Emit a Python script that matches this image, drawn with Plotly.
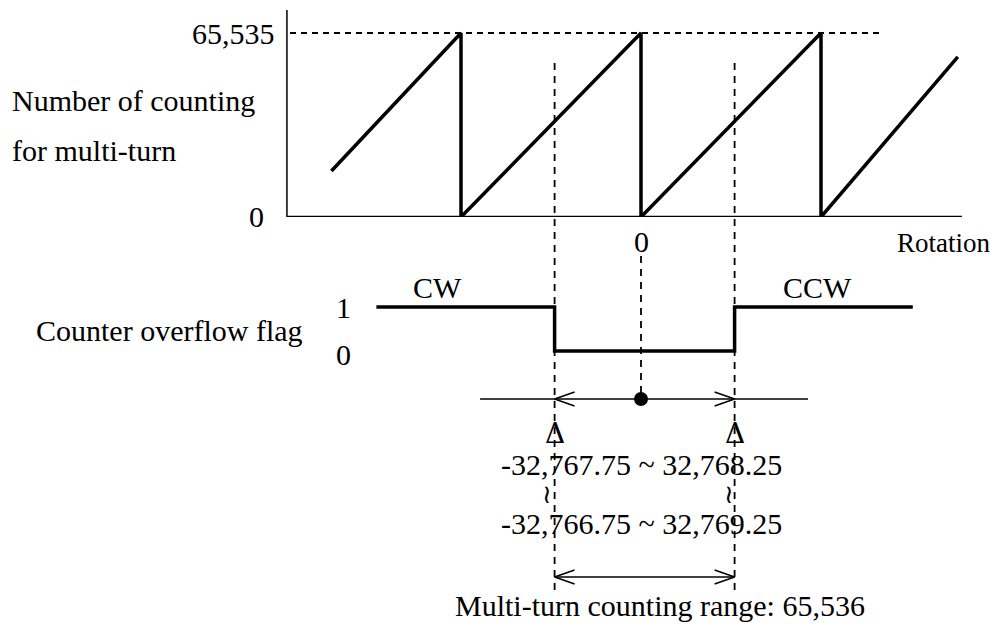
import plotly.graph_objects as go

# ---------------- data ----------------
COUNT_MAX = 65535
saw_x = [-1.72, -1, -1, 0, 0, 1, 1, 1.76]          # rotation (turns)
saw_y = [16400, 65535, 0, 65535, 0, 65535, 0, 57000]  # multi-turn count
flag_x = [-1.47, -0.48, -0.48, 0.52, 0.52, 1.51]
flag_y = [1, 1, 0, 0, 1, 1]
edge_low, edge_high = -0.48, 0.52                  # overflow-flag boundaries
axis_x_start, axis_x_end = -1.967, 1.783
top_dash_x = [-1.95, 1.34]
range_line_x = [-0.894, 0.928]
y_tick_labels = ["0", "65,535"]
flag_tick_labels = ["0", "1"]
range_text_1 = "-32,767.75 ~ 32,768.25"
range_text_2 = "-32,766.75 ~ 32,769.25"
range_caption = "Multi-turn counting range: 65,536"

# ---------------- layout constants ----------------
W, H = 1000, 629
PX_PER_TURN, ORIGIN_PX = 180, 641
FONT = "Liberation Serif"
FS = 30
BLACK = "#000000"

def py(p):  # paper fraction from pixel row
    return 1 - p / H

fig = go.Figure()

# sawtooth
fig.add_trace(go.Scatter(x=saw_x, y=saw_y, mode="lines",
                         line=dict(color=BLACK, width=3.5), yaxis="y", hoverinfo="skip"))
# flag
fig.add_trace(go.Scatter(x=flag_x, y=flag_y, mode="lines",
                         line=dict(color=BLACK, width=3.5), yaxis="y2", hoverinfo="skip"))

# lower area (paper-like axis y3)
RL = py(399)   # range line row
BL = py(577)   # bottom arrow row
fig.add_trace(go.Scatter(x=range_line_x, y=[RL, RL], mode="lines",
                         line=dict(color=BLACK, width=1.5), yaxis="y3", hoverinfo="skip"))
fig.add_trace(go.Scatter(x=[0], y=[RL], mode="markers",
                         marker=dict(color=BLACK, size=14), yaxis="y3",
                         cliponaxis=False, hoverinfo="skip"))
fig.add_trace(go.Scatter(x=[edge_low, edge_high], y=[BL, BL], mode="lines",
                         line=dict(color=BLACK, width=1.5), yaxis="y3", hoverinfo="skip"))

# chevron arrowheads
AL = 20 / PX_PER_TURN
AH = 7 / H
def chevron(tip_x, y, direction):
    dx = -direction * AL
    fig.add_trace(go.Scatter(x=[tip_x + dx, tip_x, tip_x + dx], y=[y + AH, y, y - AH],
                             mode="lines", line=dict(color=BLACK, width=1.5),
                             yaxis="y3", hoverinfo="skip"))
chevron(edge_low, RL, -1)
chevron(edge_high, RL, 1)
chevron(edge_low, BL, -1)
chevron(edge_high, BL, 1)

shapes = []
# axes of top panel
shapes.append(dict(type="line", xref="x", yref="y domain", x0=axis_x_start, x1=axis_x_start,
                   y0=0, y1=1, line=dict(color=BLACK, width=1.5)))
shapes.append(dict(type="line", xref="x", yref="y", x0=axis_x_start, x1=axis_x_end,
                   y0=0, y1=0, line=dict(color=BLACK, width=2.5)))
# top dashed line at max
shapes.append(dict(type="line", xref="x", yref="y", x0=top_dash_x[0], x1=top_dash_x[1],
                   y0=COUNT_MAX, y1=COUNT_MAX, line=dict(color=BLACK, width=1.8, dash="6px,5px")))
# boundary dashed verticals
for ex in (edge_low, edge_high):
    shapes.append(dict(type="line", xref="x", yref="paper", x0=ex, x1=ex,
                       y0=py(63), y1=py(592), line=dict(color=BLACK, width=1.8, dash="7px,6px")))
# centre dashed vertical
shapes.append(dict(type="line", xref="x", yref="paper", x0=0, x1=0,
                   y0=py(256), y1=py(396), line=dict(color=BLACK, width=1.8, dash="7px,6px")))

ann = []
def txt(text, x, y, xref="paper", xanchor="center", size=FS, angle=0, family=FONT):
    ann.append(dict(text=text, x=x, y=y, xref=xref, yref="paper", xanchor=xanchor,
                    yanchor="middle", showarrow=False, textangle=angle,
                    font=dict(family=family, size=size, color=BLACK)))

txt(y_tick_labels[1], 277 / W, py(33), xanchor="right")
txt(y_tick_labels[0], 266 / W, py(217), xanchor="right")
txt("Number of counting", 10 / W, py(100), xanchor="left")
txt("for multi-turn", 10 / W, py(150), xanchor="left")
txt("0", 0, py(241), xref="x")
txt("Rotation", 992 / W, py(243), xanchor="right", size=27)
txt("CW", -1.13, py(287), xref="x")
txt("CCW", 0.98, py(287), xref="x")
txt(flag_tick_labels[1], 353 / W, py(308), xanchor="right")
txt(flag_tick_labels[0], 353 / W, py(354), xanchor="right")
txt("Counter overflow flag", 34 / W, py(330), xanchor="left")
txt("Δ", edge_low, py(433), xref="x", size=28, family="DejaVu Serif")
txt("Δ", edge_high, py(433), xref="x", size=28, family="DejaVu Serif")
txt(range_text_1, 0, py(464), xref="x")
txt("≀", edge_low - 0.045, py(494), xref="x", size=26, family="DejaVu Sans")
txt("≀", edge_high - 0.03, py(494), xref="x", size=26, family="DejaVu Sans")
txt(range_text_2, 0, py(523), xref="x")
txt(range_caption, 660 / W, py(605))

fig.update_layout(
    width=W, height=H, autosize=False,
    margin=dict(l=0, r=0, t=0, b=0),
    paper_bgcolor="white", plot_bgcolor="rgba(0,0,0,0)",
    showlegend=False,
    shapes=shapes, annotations=ann,
    xaxis=dict(range=[-ORIGIN_PX / PX_PER_TURN, (W - ORIGIN_PX) / PX_PER_TURN],
               visible=False, fixedrange=True),
    yaxis=dict(domain=[py(217), py(10)], range=[0, COUNT_MAX * 207 / 184],
               visible=False, fixedrange=True),
    yaxis2=dict(domain=[py(400), py(260)], range=[-49 / 44, 91 / 44],
                visible=False, fixedrange=True, anchor="x"),
    yaxis3=dict(domain=[0, 1], range=[0, 1], visible=False, fixedrange=True, anchor="x"),
)

fig.write_html("out.html", config={"displayModeBar": False},
               post_script="document.body.style.margin='0';document.body.style.padding='0';"
                           "document.body.style.overflow='hidden';")
